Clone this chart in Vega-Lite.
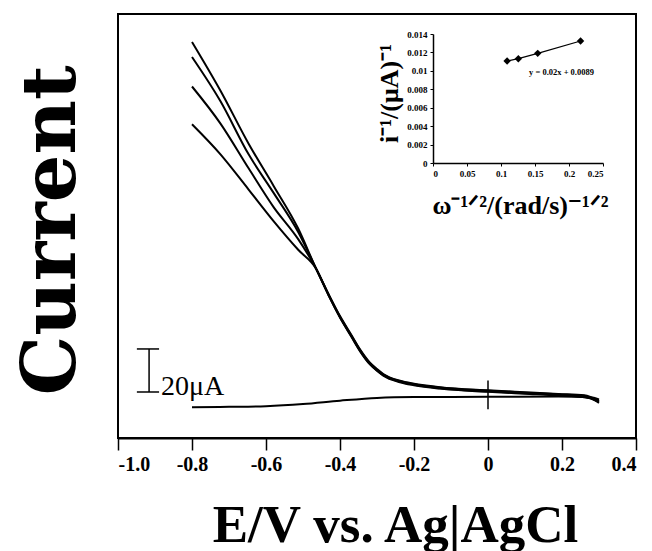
{
  "$schema": "https://vega.github.io/schema/vega-lite/v6.json",
  "width": 518,
  "height": 424,
  "autosize": {"type": "none"},
  "padding": {"left": 118, "top": 14, "right": 16, "bottom": 113},
  "background": "white",
  "config": {
    "view": {"stroke": "black", "strokeWidth": 2},
    "axis": {"grid": false, "domainColor": "black", "tickColor": "black", "labelColor": "black", "titleColor": "black", "labelFont": "Liberation Serif", "titleFont": "Liberation Serif", "labelFontWeight": "bold", "titleFontWeight": "bold"}
  },
  "layer": [
    {
      "encoding": {
        "x": {"field": "E", "type": "quantitative", "scale": {"domain": [-1, 0.4], "nice": false, "zero": false},
          "axis": {"values": [-1, -0.8, -0.6, -0.4, -0.2, 0, 0.2, 0.4], "labelExpr": "datum.value == 0 ? '0' : (datum.value < 0 ? '-' + format(-datum.value, '.1f') : format(datum.value, '.1f'))", "labelFontSize": 20, "tickSize": 12, "tickWidth": 1.5, "domainWidth": 2, "labelPadding": 4, "title": "E/V vs. Ag|AgCl", "titleFontSize": 53, "titleX": 277, "titleY": 103, "titleBaseline": "alphabetic", "titleAlign": "center"}},
        "y": {"field": "I", "type": "quantitative", "scale": {"domain": [0, 200], "nice": false},
          "axis": {"title": "Current", "labels": false, "ticks": false, "domain": false, "titleFont": "DejaVu Serif", "titleFontSize": 75, "titleX": -44, "titleY": 216, "titleBaseline": "alphabetic", "titleAlign": "center", "titleAngle": -90}}
      },
      "layer": [
        {
          "data": {"values": [
            {"s": "c1", "E": -0.8, "I": 186.8}, {"s": "c1", "E": -0.723, "I": 163.8}, {"s": "c1", "E": -0.647, "I": 138.8}, {"s": "c1", "E": -0.579, "I": 118.8}, {"s": "c1", "E": -0.513, "I": 98.8}, {"s": "c1", "E": -0.465, "I": 80.0},
            {"s": "c1", "E": -0.43, "I": 67.3}, {"s": "c1", "E": -0.4, "I": 57.2}, {"s": "c1", "E": -0.37, "I": 48.5}, {"s": "c1", "E": -0.346, "I": 41.5}, {"s": "c1", "E": -0.319, "I": 35.2}, {"s": "c1", "E": -0.3, "I": 32.2}, {"s": "c1", "E": -0.283, "I": 29.9}, {"s": "c1", "E": -0.238, "I": 26.8}, {"s": "c1", "E": -0.2, "I": 25.4}, {"s": "c1", "E": -0.13, "I": 23.8}, {"s": "c1", "E": 0.0, "I": 22.3}, {"s": "c1", "E": 0.1, "I": 21.4}, {"s": "c1", "E": 0.19, "I": 20.6}, {"s": "c1", "E": 0.26, "I": 19.9}, {"s": "c1", "E": 0.3, "I": 16.6},
            {"s": "c2", "E": -0.8, "I": 179.7}, {"s": "c2", "E": -0.723, "I": 158.8}, {"s": "c2", "E": -0.647, "I": 133.8}, {"s": "c2", "E": -0.579, "I": 115.5}, {"s": "c2", "E": -0.513, "I": 97.2}, {"s": "c2", "E": -0.465, "I": 80.0},
            {"s": "c2", "E": -0.43, "I": 67.0}, {"s": "c2", "E": -0.4, "I": 57.0}, {"s": "c2", "E": -0.37, "I": 48.2}, {"s": "c2", "E": -0.346, "I": 41.2}, {"s": "c2", "E": -0.319, "I": 34.9}, {"s": "c2", "E": -0.3, "I": 31.9}, {"s": "c2", "E": -0.283, "I": 29.6}, {"s": "c2", "E": -0.238, "I": 26.5}, {"s": "c2", "E": -0.2, "I": 25.1}, {"s": "c2", "E": -0.13, "I": 23.5}, {"s": "c2", "E": 0.0, "I": 22.0}, {"s": "c2", "E": 0.1, "I": 21.1}, {"s": "c2", "E": 0.19, "I": 20.3}, {"s": "c2", "E": 0.26, "I": 19.5}, {"s": "c2", "E": 0.3, "I": 17.0},
            {"s": "c3", "E": -0.8, "I": 165.8}, {"s": "c3", "E": -0.723, "I": 148.3}, {"s": "c3", "E": -0.647, "I": 127.2}, {"s": "c3", "E": -0.579, "I": 108.8}, {"s": "c3", "E": -0.513, "I": 93.8}, {"s": "c3", "E": -0.465, "I": 80.0},
            {"s": "c3", "E": -0.43, "I": 67.6}, {"s": "c3", "E": -0.4, "I": 57.5}, {"s": "c3", "E": -0.37, "I": 48.8}, {"s": "c3", "E": -0.346, "I": 41.8}, {"s": "c3", "E": -0.319, "I": 35.5}, {"s": "c3", "E": -0.3, "I": 32.5}, {"s": "c3", "E": -0.283, "I": 30.2}, {"s": "c3", "E": -0.238, "I": 27.0}, {"s": "c3", "E": -0.2, "I": 25.6}, {"s": "c3", "E": -0.13, "I": 24.0}, {"s": "c3", "E": 0.0, "I": 22.5}, {"s": "c3", "E": 0.1, "I": 21.6}, {"s": "c3", "E": 0.19, "I": 20.8}, {"s": "c3", "E": 0.26, "I": 20.2}, {"s": "c3", "E": 0.3, "I": 17.4},
            {"s": "c4", "E": -0.8, "I": 148.0}, {"s": "c4", "E": -0.723, "I": 133.8}, {"s": "c4", "E": -0.647, "I": 117.2}, {"s": "c4", "E": -0.579, "I": 102.2}, {"s": "c4", "E": -0.513, "I": 88.8}, {"s": "c4", "E": -0.465, "I": 80.0},
            {"s": "c4", "E": -0.43, "I": 67.1}, {"s": "c4", "E": -0.4, "I": 56.8}, {"s": "c4", "E": -0.37, "I": 48.0}, {"s": "c4", "E": -0.346, "I": 41.0}, {"s": "c4", "E": -0.319, "I": 34.7}, {"s": "c4", "E": -0.3, "I": 31.7}, {"s": "c4", "E": -0.283, "I": 29.4}, {"s": "c4", "E": -0.238, "I": 26.3}, {"s": "c4", "E": -0.2, "I": 24.9}, {"s": "c4", "E": -0.13, "I": 23.3}, {"s": "c4", "E": 0.0, "I": 21.8}, {"s": "c4", "E": 0.1, "I": 20.9}, {"s": "c4", "E": 0.19, "I": 20.1}, {"s": "c4", "E": 0.26, "I": 19.2}, {"s": "c4", "E": 0.3, "I": 17.8},
            {"s": "base", "E": -0.8, "I": 14.5}, {"s": "base", "E": -0.7, "I": 14.7}, {"s": "base", "E": -0.6, "I": 15.0}, {"s": "base", "E": -0.5, "I": 16.0}, {"s": "base", "E": -0.4, "I": 17.6}, {"s": "base", "E": -0.3, "I": 18.9}, {"s": "base", "E": -0.2, "I": 19.3}, {"s": "base", "E": 0.0, "I": 19.4}, {"s": "base", "E": 0.19, "I": 19.6}, {"s": "base", "E": 0.276, "I": 19.2}, {"s": "base", "E": 0.3, "I": 18.2}
          ]},
          "mark": {"type": "line", "color": "black", "strokeWidth": 2, "interpolate": "monotone"},
          "encoding": {
            "detail": {"field": "s", "type": "nominal"}
          }
        },
        {
          "data": {"values": [{"E": -0.916, "I": 21.7, "I2": 42.0}, {"E": 0.0, "I": 13.6, "I2": 27.1}]},
          "mark": {"type": "rule", "color": "black", "strokeWidth": 1.5},
          "encoding": {
            "y2": {"field": "I2"}
          }
        },
        {
          "data": {"values": [{"E": -0.949, "E2": -0.889, "I": 21.7}, {"E": -0.949, "E2": -0.889, "I": 42.0}]},
          "mark": {"type": "rule", "color": "black", "strokeWidth": 1.5},
          "encoding": {
            "x2": {"field": "E2"}
          }
        },
        {
          "data": {"values": [{"E": -0.884, "I": 20.3, "t": "20μA"}]},
          "mark": {"type": "text", "font": "Liberation Serif", "fontSize": 28, "align": "left", "baseline": "alphabetic", "color": "black"},
          "encoding": {
            "text": {"field": "t"}
          }
        }
      ]
    },
    {
      "data": {"values": [
        {"w": 0.109, "r": 0.01107},
        {"w": 0.1255, "r": 0.01132},
        {"w": 0.154, "r": 0.0119},
        {"w": 0.217, "r": 0.01324}
      ]},
      "encoding": {
        "x": {"field": "w", "type": "quantitative", "scale": {"domain": [0, 0.25], "range": [315, 485], "nice": false, "zero": false},
          "axis": {"orient": "bottom", "offset": -275, "values": [0, 0.05, 0.1, 0.15, 0.2, 0.25], "format": "~g", "labelFontSize": 9, "tickSize": 3, "domainWidth": 1.5, "labelPadding": 3, "title": "ω⁻¹ᐟ²/(rad/s)⁻¹ᐟ²", "titleFontSize": 26, "titleX": 402, "titleY": 50, "titleBaseline": "alphabetic", "titleAlign": "center"}},
        "y": {"field": "r", "type": "quantitative", "scale": {"domain": [0, 0.014], "range": [149, 20], "nice": false, "zero": false},
          "axis": {"orient": "left", "offset": -315, "values": [0, 0.002, 0.004, 0.006, 0.008, 0.01, 0.012, 0.014], "format": "~g", "labelFontSize": 9, "tickSize": 3, "domainWidth": 1.5, "labelPadding": 3, "title": "i⁻¹/(μA)⁻¹", "titleFontSize": 26, "titleX": -36, "titleY": 79, "titleBaseline": "alphabetic", "titleAlign": "center", "titleAngle": -90}}
      },
      "layer": [
        {
          "mark": {"type": "line", "color": "black", "strokeWidth": 1.2}
        },
        {
          "mark": {"type": "point", "shape": "diamond", "filled": true, "color": "black", "size": 55, "opacity": 1}
        },
        {
          "data": {"values": [{"w": 0.189, "r": 0.00988, "t": "y = 0.02x + 0.0089"}]},
          "mark": {"type": "text", "font": "Liberation Serif", "fontWeight": "bold", "fontSize": 8.5, "align": "center", "baseline": "middle", "color": "black"},
          "encoding": {
            "text": {"field": "t"}
          }
        }
      ]
    }
  ],
  "resolve": {"scale": {"x": "independent", "y": "independent"}, "axis": {"x": "independent", "y": "independent"}}
}
